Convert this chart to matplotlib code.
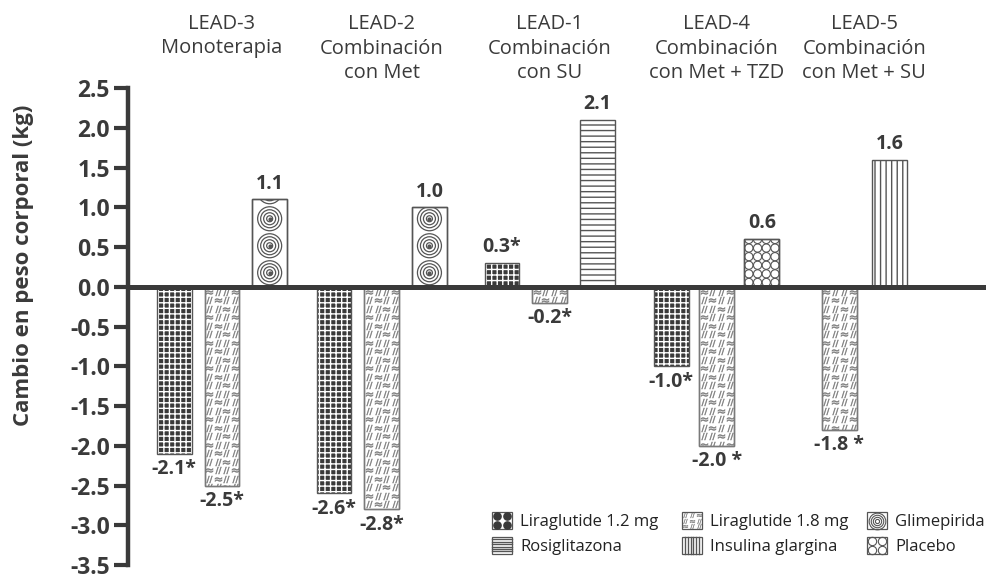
import matplotlib
matplotlib.use("Agg")
import matplotlib.pyplot as plt
from matplotlib.patches import Patch, Rectangle
from matplotlib.lines import Line2D
from matplotlib.transforms import blended_transform_factory
import numpy as np

plt.rcParams['font.family'] = ['Open Sans', 'DejaVu Sans']
plt.rcParams['hatch.linewidth'] = 1.0

# data
groups = ['LEAD-3\nMonoterapia',
          'LEAD-2\nCombinación\ncon Met',
          'LEAD-1\nCombinación\ncon SU',
          'LEAD-4\nCombinación\ncon Met + TZD',
          'LEAD-5\nCombinación\ncon Met + SU']
group_treatments = [['lira12', 'lira18', 'glime'],
                    ['lira12', 'lira18', 'glime'],
                    ['lira12', 'lira18', 'rosi'],
                    ['lira12', 'lira18', 'placebo'],
                    ['lira18', 'glargina']]
group_values = [[-2.1, -2.5, 1.1],
                [-2.6, -2.8, 1.0],
                [0.3, -0.2, 2.1],
                [-1.0, -2.0, 0.6],
                [-1.8, 1.6]]
group_marks = [['*', '*', ''],
               ['*', '*', ''],
               ['*', '*', ''],
               ['*', ' *', ''],
               [' *', '']]
treatment_names = {'lira12': 'Liraglutide 1.2 mg',
                   'lira18': 'Liraglutide 1.8 mg',
                   'glime': 'Glimepirida',
                   'rosi': 'Rosiglitazona',
                   'glargina': 'Insulina glargina',
                   'placebo': 'Placebo'}
legend_columns = [['lira12', 'rosi'], ['lira18', 'glargina'], ['glime', 'placebo']]
yticks = [2.5, 2.0, 1.5, 1.0, 0.5, 0.0, -0.5, -1.0, -1.5, -2.0, -2.5, -3.0, -3.5]

# layout / style
W, H = 987, 580
group_x = [0, 3.35, 6.87, 10.37, 13.47]
group_pitch = [1.0, 1.0, 1.0, 0.95, 1.05]
bar_w = 0.73
dark = '#3a3a3a'
edge = '#555555'
light = '#7a7a7a'
hatches = {'lira12': '+++', 'rosi': '---', 'glargina': '|||'}

fig = plt.figure(figsize=(W / 100, H / 100), dpi=100)
ax = fig.add_axes([128 / W, 15 / H, 1 - 128 / W, 477 / H])
ax.set_xlim(-1.97, 16.04)
ax.set_ylim(-3.5, 2.5)
px_x = (16.04 + 1.97) / (W - 128)   # data units per pixel
px_y = 6.0 / 477


def texture(patch, x, v, key):
    # fill pattern for glimepirida / placebo / liraglutide 1.8 bars
    left = x - bar_w / 2
    sign = 1 if v >= 0 else -1
    if key == 'glime':
        ys = np.arange(14, abs(v) / px_y + 14, 27) * px_y * sign
        for r in [12, 9, 6, 3]:
            sc = ax.scatter(np.full(len(ys), x), ys, s=(1.44 * r) ** 2,
                            facecolors='none', edgecolors=edge, linewidths=0.9,
                            zorder=2.5)
            sc.set_clip_path(patch)
        sc = ax.scatter(np.full(len(ys), x), ys, s=4, color=edge, zorder=2.5)
        sc.set_clip_path(patch)
    elif key == 'placebo':
        ys = np.arange(4.3, abs(v) / px_y + 5, 8.6) * px_y * sign
        for k in range(4):
            xs = np.full(len(ys), left + (4.4 + 8.7 * k) * px_x)
            sc = ax.scatter(xs, ys, s=(8.2 * 0.72) ** 2, facecolors='none',
                            edgecolors=edge, linewidths=0.8, zorder=2.5)
            sc.set_clip_path(patch)
    elif key == 'lira18':
        ys = np.arange(5, abs(v) / px_y + 5, 8.5) * px_y * sign
        for i, yy in enumerate(ys):
            for k in range(4):
                xx = left + (4.5 + 8.7 * k) * px_x
                m = r'$\approx$' if (i + 2 * k) % 3 == 0 else r'$//$'
                sc = ax.scatter([xx], [yy], marker=m, s=26, color=light,
                                linewidths=0.3, zorder=2.5)
                sc.set_clip_path(patch)


for gi in range(len(groups)):
    treats = group_treatments[gi]
    vals = group_values[gi]
    n = len(treats)
    for j in range(n):
        x = group_x[gi] + (j - (n - 1) / 2) * group_pitch[gi]
        v = vals[j]
        key = treats[j]
        if key == 'lira12':
            ax.bar(x, v, bar_w, color=dark, edgecolor='white', hatch=hatches[key],
                   linewidth=0, zorder=2)
            ax.bar(x, v, bar_w, fill=False, edgecolor=edge, linewidth=1, zorder=3)
        elif key in hatches:
            ax.bar(x, v, bar_w, color='white', edgecolor=edge, hatch=hatches[key],
                   linewidth=1, zorder=2)
        else:
            ec = light if key == 'lira18' else edge
            bars = ax.bar(x, v, bar_w, color='white', edgecolor=ec, linewidth=1,
                          zorder=2)
            texture(bars[0], x, v, key)
            ax.bar(x, v, bar_w, fill=False, edgecolor=ec, linewidth=1, zorder=3)
        txt = f'{v:.1f}' + group_marks[gi][j]
        if v >= 0:
            ax.text(x, v + 0.07, txt, ha='center', va='bottom', fontsize=14,
                    fontweight='bold', color=dark)
        else:
            ax.text(x, v - 0.07, txt, ha='center', va='top', fontsize=14,
                    fontweight='bold', color=dark)
    ax.text(group_x[gi], 1 - 14 / H, groups[gi], ha='center', va='top',
            fontsize=14.5, color=dark, linespacing=1.3,
            transform=blended_transform_factory(ax.transData, fig.transFigure))

ax.axhline(0, color=dark, lw=3.6, zorder=4)

ax.set_yticks(yticks)
ax.set_yticklabels([f'{t:.1f}' for t in yticks], fontsize=16.5, fontweight='bold',
                   color=dark)
ax.tick_params(axis='y', length=10, width=3, color=dark, pad=3)
ax.set_xticks([])
for s in ['top', 'right', 'bottom']:
    ax.spines[s].set_visible(False)
ax.spines['left'].set_linewidth(3.2)
ax.spines['left'].set_color(dark)

fig.text(24 / W, 1 - 265 / H, 'Cambio en peso corporal (kg)', rotation=90,
         ha='center', va='center', fontsize=16, fontweight='bold', color=dark)


class TextureHandler:
    def legend_artist(self, legend, orig_handle, fontsize, handlebox):
        key = orig_handle.get_gid()
        x0, y0 = -handlebox.xdescent, -handlebox.ydescent
        w, h = handlebox.width, handlebox.height
        tr = handlebox.get_transform()
        arts = [Rectangle((x0, y0), w, h, facecolor='white', edgecolor=edge,
                          linewidth=0.9, transform=tr)]
        cx, cy = x0 + w / 2, y0 + h / 2
        if key == 'lira12':
            for dx in (-1, 1):
                for dy in (-1, 1):
                    arts.append(Line2D([cx + dx * w / 4], [cy + dy * h / 4], ls='none',
                                       marker='o', ms=5.2, color=dark, transform=tr))
        elif key == 'placebo':
            for dx in (-1, 1):
                for dy in (-1, 1):
                    arts.append(Line2D([cx + dx * w / 4], [cy + dy * h / 4], ls='none',
                                       marker='o', ms=6, mfc='none', mec=edge,
                                       mew=0.8, transform=tr))
        elif key == 'glime':
            for d in [12, 9, 6, 3]:
                arts.append(Line2D([cx], [cy], ls='none', marker='o', ms=d,
                                   mfc='none', mec=edge, mew=0.8, transform=tr))
        elif key == 'rosi':
            for k in range(1, 7):
                yy = y0 + h * k / 7
                arts.append(Line2D([x0, x0 + w], [yy, yy], color=edge, lw=1,
                                   transform=tr))
        elif key == 'glargina':
            for k in range(1, 7):
                xx = x0 + w * k / 7
                arts.append(Line2D([xx, xx], [y0, y0 + h], color=edge, lw=1,
                                   transform=tr))
        elif key == 'lira18':
            for i in range(3):
                for k in range(3):
                    m = r'$\approx$' if (i + 2 * k) % 3 == 0 else r'$//$'
                    arts.append(Line2D([x0 + w * (k + 0.5) / 3],
                                       [y0 + h * (i + 0.5) / 3], ls='none',
                                       marker=m, ms=3.6, color=light, mew=0.2,
                                       transform=tr))
        for a in arts:
            handlebox.add_artist(a)
        return arts[0]


legend_x = [492, 682, 867]
for ci, col in enumerate(legend_columns):
    handles = [Patch(gid=k) for k in col]
    leg = fig.legend(handles, [treatment_names[k] for k in col], ncol=1,
                     loc='upper left', bbox_to_anchor=(legend_x[ci] / W, 1 - 512 / H),
                     frameon=False, fontsize=12, handlelength=1.2, handleheight=1.2,
                     handletextpad=0.5, labelspacing=0.4, borderpad=0,
                     borderaxespad=0, labelcolor='#222222',
                     handler_map={Patch: TextureHandler()})

fig.savefig('out.png', dpi=100)
